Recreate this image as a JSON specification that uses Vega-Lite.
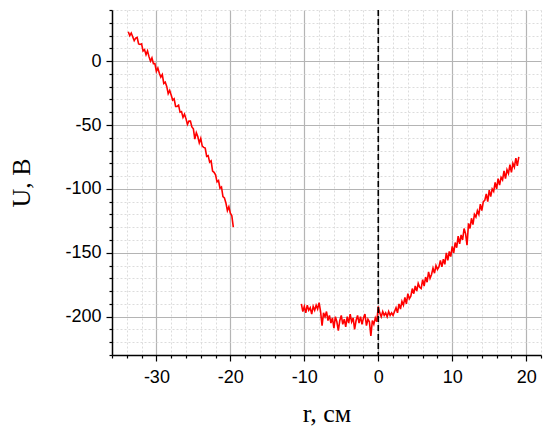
{
  "$schema": "https://vega.github.io/schema/vega-lite/v6.json",
  "autosize": {"type": "none"},
  "width": 429,
  "height": 345,
  "padding": {"left": 112, "top": 10, "right": 5, "bottom": 71},
  "background": "white",
  "config": {"view": {"stroke": null}},
  "datasets": {
    "curve": [
      {"r": -33.8, "U": 23, "s": "a"}, {"r": -33.6, "U": 20, "s": "a"}, {"r": -33.4, "U": 22, "s": "a"}, {"r": -33.2, "U": 19, "s": "a"},
      {"r": -33.0, "U": 16, "s": "a"}, {"r": -32.8, "U": 18, "s": "a"}, {"r": -32.6, "U": 18.5, "s": "a"}, {"r": -32.4, "U": 13.5, "s": "a"},
      {"r": -32.2, "U": 13, "s": "a"}, {"r": -32.0, "U": 13.5, "s": "a"}, {"r": -31.8, "U": 8, "s": "a"}, {"r": -31.6, "U": 9, "s": "a"},
      {"r": -31.4, "U": 5, "s": "a"}, {"r": -31.2, "U": 8, "s": "a"}, {"r": -31.0, "U": 3.5, "s": "a"}, {"r": -30.8, "U": 0, "s": "a"},
      {"r": -30.6, "U": 2.5, "s": "a"}, {"r": -30.4, "U": -2, "s": "a"}, {"r": -30.2, "U": -2, "s": "a"}, {"r": -30.0, "U": -8, "s": "a"},
      {"r": -29.8, "U": -5.5, "s": "a"}, {"r": -29.6, "U": -9.5, "s": "a"}, {"r": -29.4, "U": -12.5, "s": "a"}, {"r": -29.2, "U": -10.5, "s": "a"},
      {"r": -29.0, "U": -17.5, "s": "a"}, {"r": -28.8, "U": -16.5, "s": "a"}, {"r": -28.6, "U": -19.8, "s": "a"}, {"r": -28.4, "U": -25.5, "s": "a"},
      {"r": -28.2, "U": -23, "s": "a"}, {"r": -28.0, "U": -26.5, "s": "a"}, {"r": -27.8, "U": -30.5, "s": "a"}, {"r": -27.6, "U": -29.5, "s": "a"},
      {"r": -27.4, "U": -35.5, "s": "a"}, {"r": -27.2, "U": -35.5, "s": "a"}, {"r": -27.0, "U": -34.5, "s": "a"}, {"r": -26.8, "U": -40, "s": "a"},
      {"r": -26.6, "U": -39.5, "s": "a"}, {"r": -26.4, "U": -44, "s": "a"}, {"r": -26.2, "U": -41.5, "s": "a"}, {"r": -26.0, "U": -45, "s": "a"},
      {"r": -25.8, "U": -49.5, "s": "a"}, {"r": -25.6, "U": -47, "s": "a"}, {"r": -25.4, "U": -47, "s": "a"}, {"r": -25.2, "U": -51.5, "s": "a"},
      {"r": -25.0, "U": -53, "s": "a"}, {"r": -24.8, "U": -61, "s": "a"}, {"r": -24.6, "U": -56, "s": "a"}, {"r": -24.4, "U": -59, "s": "a"},
      {"r": -24.2, "U": -64, "s": "a"}, {"r": -24.0, "U": -60.5, "s": "a"}, {"r": -23.8, "U": -66.5, "s": "a"}, {"r": -23.6, "U": -67.5, "s": "a"},
      {"r": -23.4, "U": -68, "s": "a"}, {"r": -23.2, "U": -74.5, "s": "a"}, {"r": -23.0, "U": -74, "s": "a"}, {"r": -22.8, "U": -79, "s": "a"},
      {"r": -22.6, "U": -78, "s": "a"}, {"r": -22.4, "U": -86, "s": "a"}, {"r": -22.2, "U": -87, "s": "a"}, {"r": -22.0, "U": -89, "s": "a"},
      {"r": -21.8, "U": -94.5, "s": "a"}, {"r": -21.6, "U": -93.5, "s": "a"}, {"r": -21.4, "U": -99.5, "s": "a"}, {"r": -21.2, "U": -98.5, "s": "a"},
      {"r": -21.0, "U": -106, "s": "a"}, {"r": -20.8, "U": -107, "s": "a"}, {"r": -20.6, "U": -111, "s": "a"}, {"r": -20.4, "U": -117, "s": "a"},
      {"r": -20.2, "U": -114, "s": "a"}, {"r": -20.0, "U": -119, "s": "a"}, {"r": -19.8, "U": -121, "s": "a"}, {"r": -19.6, "U": -130, "s": "a"},
      {"r": -10.4, "U": -190, "s": "b"}, {"r": -10.2, "U": -196, "s": "b"}, {"r": -10.0, "U": -192, "s": "b"}, {"r": -9.8, "U": -197, "s": "b"},
      {"r": -9.6, "U": -191, "s": "b"}, {"r": -9.4, "U": -195, "s": "b"}, {"r": -9.2, "U": -193, "s": "b"}, {"r": -9.0, "U": -198, "s": "b"},
      {"r": -8.8, "U": -192, "s": "b"}, {"r": -8.6, "U": -195, "s": "b"}, {"r": -8.4, "U": -191, "s": "b"}, {"r": -8.2, "U": -194, "s": "b"},
      {"r": -8.0, "U": -189, "s": "b"}, {"r": -7.8, "U": -196, "s": "b"}, {"r": -7.6, "U": -207, "s": "b"}, {"r": -7.4, "U": -197, "s": "b"},
      {"r": -7.2, "U": -200, "s": "b"}, {"r": -7.0, "U": -196, "s": "b"}, {"r": -6.8, "U": -203, "s": "b"}, {"r": -6.6, "U": -199, "s": "b"},
      {"r": -6.4, "U": -205, "s": "b"}, {"r": -6.2, "U": -201, "s": "b"}, {"r": -6.0, "U": -209, "s": "b"}, {"r": -5.8, "U": -200, "s": "b"},
      {"r": -5.6, "U": -204, "s": "b"}, {"r": -5.4, "U": -211, "s": "b"}, {"r": -5.2, "U": -203, "s": "b"}, {"r": -5.0, "U": -199, "s": "b"},
      {"r": -4.8, "U": -206, "s": "b"}, {"r": -4.6, "U": -202, "s": "b"}, {"r": -4.4, "U": -208, "s": "b"}, {"r": -4.2, "U": -200, "s": "b"},
      {"r": -4.0, "U": -205, "s": "b"}, {"r": -3.8, "U": -198, "s": "b"}, {"r": -3.6, "U": -204, "s": "b"}, {"r": -3.4, "U": -201, "s": "b"},
      {"r": -3.2, "U": -210, "s": "b"}, {"r": -3.0, "U": -203, "s": "b"}, {"r": -2.8, "U": -199, "s": "b"}, {"r": -2.6, "U": -205, "s": "b"},
      {"r": -2.4, "U": -200, "s": "b"}, {"r": -2.2, "U": -206, "s": "b"}, {"r": -2.0, "U": -201, "s": "b"}, {"r": -1.8, "U": -198, "s": "b"},
      {"r": -1.6, "U": -207, "s": "b"}, {"r": -1.4, "U": -202, "s": "b"}, {"r": -1.2, "U": -204, "s": "b"}, {"r": -1.0, "U": -215, "s": "b"},
      {"r": -0.8, "U": -203, "s": "b"}, {"r": -0.6, "U": -206, "s": "b"}, {"r": -0.4, "U": -201, "s": "b"}, {"r": -0.2, "U": -204, "s": "b"},
      {"r": 0.0, "U": -192, "s": "b"}, {"r": 0.2, "U": -197, "s": "b"}, {"r": 0.4, "U": -200, "s": "b"}, {"r": 0.6, "U": -196, "s": "b"},
      {"r": 0.8, "U": -199, "s": "b"}, {"r": 1.0, "U": -197, "s": "b"}, {"r": 1.2, "U": -200, "s": "b"}, {"r": 1.4, "U": -196, "s": "b"},
      {"r": 1.6, "U": -199, "s": "b"}, {"r": 1.8, "U": -197, "s": "b"}, {"r": 2.0, "U": -199, "s": "b"}, {"r": 2.2, "U": -196, "s": "b"},
      {"r": 2.4, "U": -193, "s": "b"}, {"r": 2.6, "U": -197, "s": "b"}, {"r": 2.8, "U": -190, "s": "b"}, {"r": 3.0, "U": -194, "s": "b"},
      {"r": 3.2, "U": -188, "s": "b"}, {"r": 3.4, "U": -191, "s": "b"}, {"r": 3.6, "U": -185, "s": "b"}, {"r": 3.8, "U": -190, "s": "b"},
      {"r": 4.0, "U": -182, "s": "b"}, {"r": 4.2, "U": -186, "s": "b"}, {"r": 4.4, "U": -184, "s": "b"}, {"r": 4.6, "U": -178, "s": "b"},
      {"r": 4.8, "U": -182, "s": "b"}, {"r": 5.0, "U": -176, "s": "b"}, {"r": 5.2, "U": -180, "s": "b"}, {"r": 5.4, "U": -174, "s": "b"},
      {"r": 5.6, "U": -177, "s": "b"}, {"r": 5.8, "U": -178, "s": "b"}, {"r": 6.0, "U": -171, "s": "b"}, {"r": 6.2, "U": -176, "s": "b"},
      {"r": 6.4, "U": -169, "s": "b"}, {"r": 6.6, "U": -173, "s": "b"}, {"r": 6.8, "U": -165, "s": "b"}, {"r": 7.0, "U": -170, "s": "b"},
      {"r": 7.2, "U": -167, "s": "b"}, {"r": 7.4, "U": -162, "s": "b"}, {"r": 7.6, "U": -166, "s": "b"}, {"r": 7.8, "U": -160, "s": "b"},
      {"r": 8.0, "U": -163, "s": "b"}, {"r": 8.2, "U": -161, "s": "b"}, {"r": 8.4, "U": -156, "s": "b"}, {"r": 8.6, "U": -161, "s": "b"},
      {"r": 8.8, "U": -155, "s": "b"}, {"r": 9.0, "U": -159, "s": "b"}, {"r": 9.2, "U": -150, "s": "b"}, {"r": 9.4, "U": -156, "s": "b"},
      {"r": 9.6, "U": -149, "s": "b"}, {"r": 9.8, "U": -153, "s": "b"}, {"r": 10.0, "U": -145, "s": "b"}, {"r": 10.2, "U": -150, "s": "b"},
      {"r": 10.4, "U": -142, "s": "b"}, {"r": 10.6, "U": -146, "s": "b"}, {"r": 10.8, "U": -137, "s": "b"}, {"r": 11.0, "U": -143, "s": "b"},
      {"r": 11.2, "U": -136, "s": "b"}, {"r": 11.4, "U": -140, "s": "b"}, {"r": 11.6, "U": -131, "s": "b"}, {"r": 11.8, "U": -135, "s": "b"},
      {"r": 12.0, "U": -144, "s": "b"}, {"r": 12.2, "U": -127, "s": "b"}, {"r": 12.4, "U": -131, "s": "b"}, {"r": 12.6, "U": -123, "s": "b"},
      {"r": 12.8, "U": -128, "s": "b"}, {"r": 13.0, "U": -120, "s": "b"}, {"r": 13.2, "U": -122, "s": "b"}, {"r": 13.4, "U": -117, "s": "b"},
      {"r": 13.6, "U": -120, "s": "b"}, {"r": 13.8, "U": -112, "s": "b"}, {"r": 14.0, "U": -117, "s": "b"}, {"r": 14.2, "U": -110, "s": "b"},
      {"r": 14.4, "U": -109, "s": "b"}, {"r": 14.6, "U": -104, "s": "b"}, {"r": 14.8, "U": -110, "s": "b"}, {"r": 15.0, "U": -101, "s": "b"},
      {"r": 15.2, "U": -106, "s": "b"}, {"r": 15.4, "U": -100, "s": "b"}, {"r": 15.6, "U": -102, "s": "b"}, {"r": 15.8, "U": -95, "s": "b"},
      {"r": 16.0, "U": -100, "s": "b"}, {"r": 16.2, "U": -92, "s": "b"}, {"r": 16.4, "U": -97, "s": "b"}, {"r": 16.6, "U": -91, "s": "b"},
      {"r": 16.8, "U": -93, "s": "b"}, {"r": 17.0, "U": -86, "s": "b"}, {"r": 17.2, "U": -92, "s": "b"}, {"r": 17.4, "U": -85, "s": "b"},
      {"r": 17.6, "U": -88, "s": "b"}, {"r": 17.8, "U": -81, "s": "b"}, {"r": 18.0, "U": -87, "s": "b"}, {"r": 18.2, "U": -80, "s": "b"},
      {"r": 18.4, "U": -83, "s": "b"}, {"r": 18.6, "U": -76, "s": "b"}, {"r": 18.8, "U": -82, "s": "b"}, {"r": 19.0, "U": -75, "s": "b"}
    ]
  },
  "encoding": {
    "x": {
      "field": "r", "type": "quantitative",
      "scale": {"domain": [-36, 22], "nice": false, "zero": false},
      "axis": {
        "title": "r, см",
        "titleFont": "Liberation Serif", "titleFontSize": 26, "titleFontWeight": "normal", "titleColor": "#000",
        "titleBaseline": "alphabetic", "titleY": 66,
        "values": [-36, -34, -32, -30, -28, -26, -24, -22, -20, -18, -16, -14, -12, -10, -8, -6, -4, -2, 0, 2, 4, 6, 8, 10, 12, 14, 16, 18, 20, 22],
        "labelExpr": "datum.value % 10 === 0 ? '' + datum.value : ''",
        "labelFont": "Liberation Sans", "labelFontSize": 18, "labelColor": "#000",
        "labelPadding": 7, "labelFlush": false, "labelOverlap": false,
        "domainColor": "#000", "domainWidth": 1.5,
        "tickColor": "#000", "tickWidth": 1.2,
        "tickSize": {"condition": {"test": "datum.value % 10 === 0", "value": 6}, "value": 3},
        "grid": true,
        "gridColor": {"condition": {"test": "datum.value % 10 === 0", "value": "#b4b4b4"}, "value": "#dcdcdc"},
        "gridDash": {"condition": {"test": "datum.value % 10 === 0", "value": []}, "value": [2, 2]},
        "gridWidth": {"condition": {"test": "datum.value % 10 === 0", "value": 1.2}, "value": 1}
      }
    }
  },
  "layer": [
    {
      "data": {"name": "curve"},
      "mark": {"type": "line", "color": "#ff0000", "strokeWidth": 1.6, "interpolate": "linear"},
      "encoding": {
        "y": {
          "field": "U", "type": "quantitative",
          "scale": {"domain": [-230, 40], "nice": false, "zero": false},
          "axis": {
            "title": "U, В",
            "titleFont": "Liberation Serif", "titleFontSize": 26, "titleFontWeight": "normal", "titleColor": "#000",
            "titleX": -78,
            "values": [-230, -220, -210, -200, -190, -180, -170, -160, -150, -140, -130, -120, -110, -100, -90, -80, -70, -60, -50, -40, -30, -20, -10, 0, 10, 20, 30, 40],
            "labelExpr": "datum.value % 50 === 0 ? '' + datum.value : ''",
            "labelFont": "Liberation Sans", "labelFontSize": 18, "labelColor": "#000",
            "labelPadding": 5, "labelFlush": false, "labelOverlap": false,
            "domainColor": "#000", "domainWidth": 1.5,
            "tickColor": "#000", "tickWidth": 1.2,
            "tickSize": {"condition": {"test": "datum.value % 50 === 0", "value": 6}, "value": 3},
            "grid": true,
            "gridColor": {"condition": {"test": "datum.value % 50 === 0", "value": "#b4b4b4"}, "value": "#dcdcdc"},
            "gridDash": {"condition": {"test": "datum.value % 50 === 0", "value": []}, "value": [2, 2]},
            "gridWidth": {"condition": {"test": "datum.value % 50 === 0", "value": 1.2}, "value": 1}
          }
        },
        "detail": {"field": "s", "type": "nominal"}
      }
    },
    {
      "data": {"values": [{"r": 0}]},
      "mark": {"type": "rule", "color": "#000", "strokeWidth": 1.6, "strokeDash": [6, 3]},
      "encoding": {}
    }
  ]
}
